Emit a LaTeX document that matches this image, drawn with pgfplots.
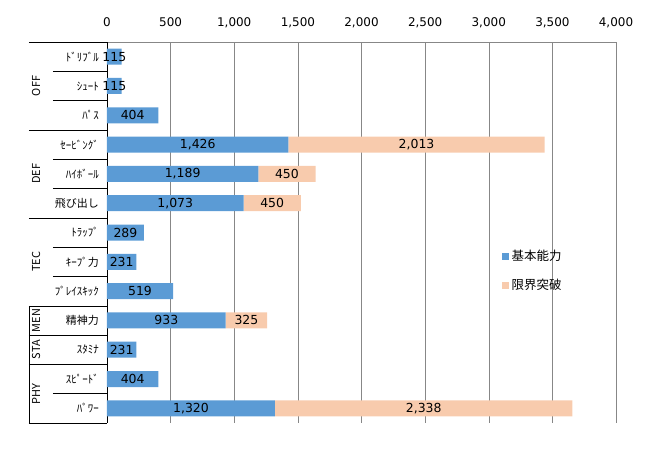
\documentclass[border=0pt]{standalone}
\usepackage{pgfplots}
\pgfplotsset{compat=1.18}
\usepackage{pgfplotstable}
\usepackage{fontspec}
\setmainfont{DejaVu Sans}
\newfontfamily\jp{Noto Sans CJK JP}

\definecolor{basecol}{HTML}{5B9BD5}
\definecolor{brkcol}{HTML}{F8CBAD}
\definecolor{gridcol}{HTML}{878787}

% idx: row from the top, base: 基本能力, brk: 限界突破
\pgfplotstableread{
idx base brk
0   115  0
1   115  0
2   404  0
3   1426 2013
4   1189 450
5   1073 450
6   289  0
7   231  0
8   519  0
9   933  325
10  231  0
11  404  0
12  1320 2338
}\skills

\begin{document}
\begin{tikzpicture}
\begin{axis}[
    at={(0,0)}, anchor=south west,
    scale only axis,
    width=509bp, height=381bp,
    xbar stacked,
    bar width=16bp,
    xmin=0, xmax=4000,
    ymin=-0.5, ymax=12.5,
    y dir=reverse,
    xtick={0,500,...,4000},
    ytick={0,...,12},
    yticklabels={ﾄﾞﾘﾌﾞﾙ,ｼｭｰﾄ,ﾊﾟｽ,ｾｰﾋﾞﾝｸﾞ,ﾊｲﾎﾞｰﾙ,飛び出し,ﾄﾗｯﾌﾟ,ｷｰﾌﾟ力,ﾌﾟﾚｲｽｷｯｸ,精神力,ｽﾀﾐﾅ,ｽﾋﾟｰﾄﾞ,ﾊﾟﾜｰ},
    axis x line*=top,
    axis y line*=left,
    x axis line style={gridcol},
    y axis line style={black},
    major tick length=0pt,
    xmajorgrids,
    grid style={gridcol},
    /pgf/number format/.cd, 1000 sep={,}, assume math mode=true,
    /pgfplots/.cd,
    xticklabel style={font=\fontsize{12}{14}\selectfont, anchor=base, inner sep=0pt, yshift=15bp},
    yticklabel style={font=\jp\fontsize{11}{13}\selectfont, anchor=east, inner sep=0pt, xshift=-8bp},
    point meta=explicit,
    nodes near coords={\pgfmathfloatifflags{\pgfplotspointmeta}{0}{}{\pgfmathprintnumber{\pgfplotspointmeta}}},
    every node near coord/.append style={font=\fontsize{12.5}{14}\selectfont, black, anchor=center, inner sep=0pt},
    legend cell align=left,
    legend image code/.code={\fill[#1] (0bp,-3.5bp) rectangle (7bp,3.5bp);},
    legend style={draw=none, fill=none, inner sep=0pt, row sep=12bp,
        at={(rel axis cs:0.776,0.399)}, anchor=west,
        font=\jp\fontsize{12.5}{14}\selectfont,
        nodes={inner sep=2.5bp}},
    clip=false,
]
\addplot[fill=basecol, draw=none] table[x=base, y=idx, meta=base] {\skills};
\addplot[fill=brkcol, draw=none] table[x=brk, y=idx, meta=brk] {\skills};
\legend{基本能力,限界突破}

% multi-level category frame
\pgfplotsinvokeforeach{-0.5,2.5,5.5,8.5,9.5,10.5,12.5}{
    \draw[black] ([xshift=-78bp]axis cs:0,#1) -- (axis cs:0,#1);
}
\pgfplotsinvokeforeach{0.5,1.5,3.5,4.5,6.5,7.5,11.5}{
    \draw[black] ([xshift=-54bp]axis cs:0,#1) -- (axis cs:0,#1);
}
\draw[black] ([xshift=-78bp]axis cs:0,8.5) -- ([xshift=-78bp]axis cs:0,12.5);
\node[rotate=90, font=\jp\fontsize{11}{13}\selectfont, inner sep=0pt] at ([xshift=-71bp]axis cs:0,1) {OFF};
\node[rotate=90, font=\jp\fontsize{11}{13}\selectfont, inner sep=0pt] at ([xshift=-71bp]axis cs:0,4) {DEF};
\node[rotate=90, font=\jp\fontsize{11}{13}\selectfont, inner sep=0pt] at ([xshift=-71bp]axis cs:0,7) {TEC};
\node[rotate=90, font=\jp\fontsize{11}{13}\selectfont, inner sep=0pt] at ([xshift=-71bp]axis cs:0,9) {MEN};
\node[rotate=90, font=\jp\fontsize{11}{13}\selectfont, inner sep=0pt] at ([xshift=-71bp]axis cs:0,10) {STA};
\node[rotate=90, font=\jp\fontsize{11}{13}\selectfont, inner sep=0pt] at ([xshift=-71bp]axis cs:0,11.5) {PHY};
\end{axis}
\path (-107bp,-26bp) rectangle (562bp,423bp);
\end{tikzpicture}
\end{document}
